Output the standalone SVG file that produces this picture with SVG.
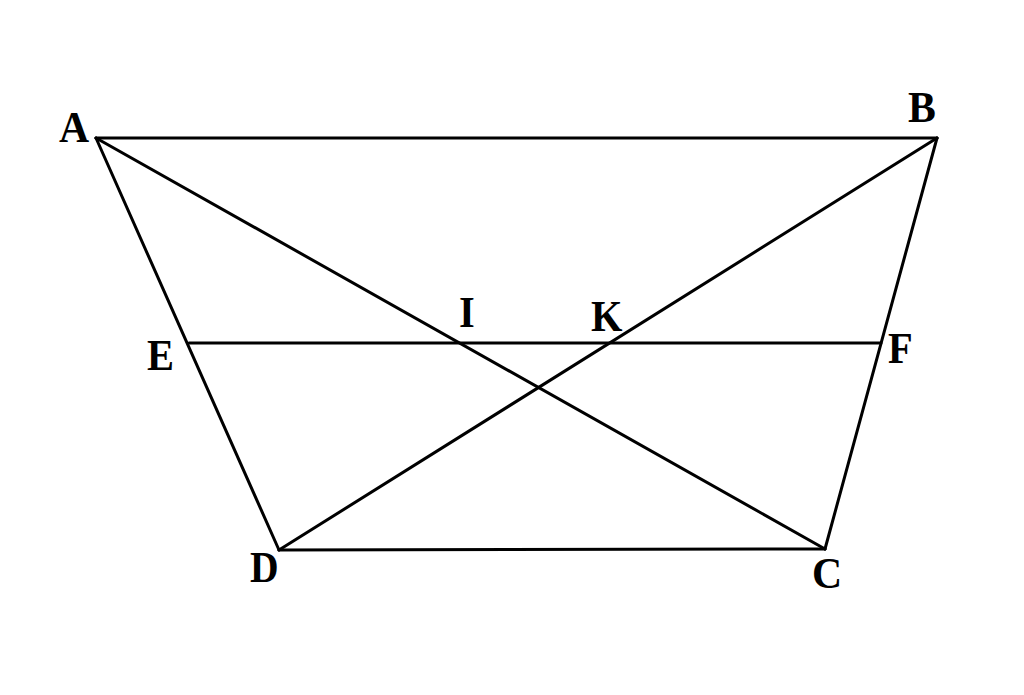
<svg xmlns="http://www.w3.org/2000/svg" width="1024" height="695" viewBox="0 0 1024 695">
<style>
.l{stroke:#000;stroke-width:3;fill:none;stroke-linecap:round}
.t{font-family:"Liberation Serif","Times New Roman",serif;font-weight:bold;font-size:44px;fill:#000}
</style>
<rect width="1024" height="695" fill="#fff"/>
<g id="connectors">
<line class="l" x1="96" y1="138" x2="937" y2="138"/>
<line class="l" x1="96" y1="138" x2="279" y2="550"/>
<line class="l" x1="937" y1="138" x2="825" y2="549"/>
<line class="l" x1="279" y1="550" x2="825" y2="549"/>
<line class="l" x1="96" y1="138" x2="825" y2="549"/>
<line class="l" x1="937" y1="138" x2="279" y2="550"/>
<line class="l" x1="189" y1="343" x2="881" y2="343"/>
</g>
<g id="A"><text class="t" transform="translate(59,142) scale(0.95,1)">A</text></g>
<g id="B"><text class="t" transform="translate(908,122) scale(0.95,1)">B</text></g>
<g id="C"><text class="t" transform="translate(812,588) scale(0.95,1)">C</text></g>
<g id="D"><text class="t" transform="translate(250,582) scale(0.9,1)">D</text></g>
<g id="E"><text class="t" transform="translate(147,370) scale(0.92,1)">E</text></g>
<g id="F"><text class="t" transform="translate(888,363) scale(0.92,1)">F</text></g>
<g id="I"><text class="t" transform="translate(459,327) scale(0.92,1)">I</text></g>
<g id="K"><text class="t" transform="translate(591,331) scale(0.92,1)">K</text></g>
</svg>
